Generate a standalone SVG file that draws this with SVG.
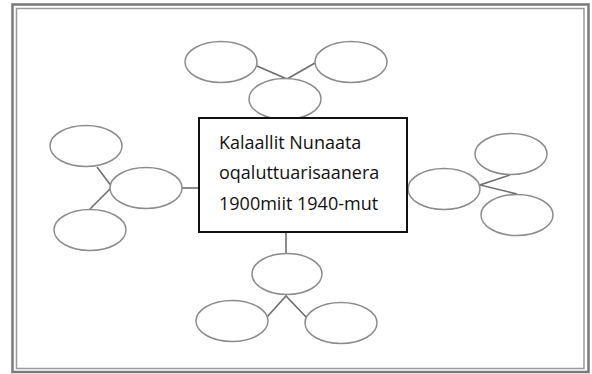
<svg xmlns="http://www.w3.org/2000/svg" width="592" height="374" viewBox="0 0 592 374">
<style>
.frame1{fill:none;stroke:#7a7a7a;stroke-width:2.5}
.frame2{fill:none;stroke:#9a9a9a;stroke-width:1.5}
.oval{fill:#fff;stroke:#8c8c8c;stroke-width:1.5}
.conn{fill:none;stroke:#6e6e6e;stroke-width:1.6}
.box{fill:#fff;stroke:#111;stroke-width:2}
.lbl{font-family:"Open Sans","Noto Sans","Liberation Sans",sans-serif;font-size:18px;fill:#111}
</style>
<rect x="0" y="0" width="592" height="374" fill="#fff"/>
<g id="frame">
<rect class="frame1" x="12.5" y="4.5" width="576" height="367.5"/>
<rect class="frame2" x="16.5" y="8.5" width="567.5" height="360"/>
</g>
<g id="connectors">
<polyline class="conn" points="257,66 287,79 315,63"/>
<polyline class="conn" points="97,167 112,187 90,209"/>
<line class="conn" x1="182" y1="188" x2="199" y2="188"/>
<line class="conn" x1="286" y1="232" x2="286" y2="254"/>
<polyline class="conn" points="267,317 286,296 306,317"/>
<polyline class="conn" points="510,175 480,185 517,194"/>
</g>
<g id="top-left"><ellipse class="oval" cx="221" cy="62" rx="36" ry="20.5"/></g>
<g id="top-right"><ellipse class="oval" cx="351" cy="62" rx="36" ry="20.5"/></g>
<g id="top-middle"><ellipse class="oval" cx="285" cy="99" rx="36" ry="20.5"/></g>
<g id="left-upper"><ellipse class="oval" cx="86" cy="146" rx="36" ry="20.5"/></g>
<g id="left-middle"><ellipse class="oval" cx="146" cy="188" rx="36" ry="20.5"/></g>
<g id="left-lower"><ellipse class="oval" cx="90" cy="230" rx="36" ry="20.5"/></g>
<g id="right-upper"><ellipse class="oval" cx="511" cy="154" rx="36" ry="20.5"/></g>
<g id="right-middle"><ellipse class="oval" cx="444" cy="189" rx="36" ry="20.5"/></g>
<g id="right-lower"><ellipse class="oval" cx="517" cy="215" rx="36" ry="20.5"/></g>
<g id="bottom-middle"><ellipse class="oval" cx="287" cy="274" rx="35" ry="20.5"/></g>
<g id="bottom-left"><ellipse class="oval" cx="232" cy="321" rx="36" ry="20.5"/></g>
<g id="bottom-right"><ellipse class="oval" cx="341" cy="323" rx="36" ry="20.5"/></g>
<g id="center">
<rect class="box" x="199" y="118" width="208" height="114"/>
<text class="lbl" x="219" y="149">Kalaallit Nunaata</text>
<text class="lbl" x="219" y="179">oqaluttuarisaanera</text>
<text class="lbl" x="219" y="210">1900miit 1940-mut</text>
</g>
</svg>
